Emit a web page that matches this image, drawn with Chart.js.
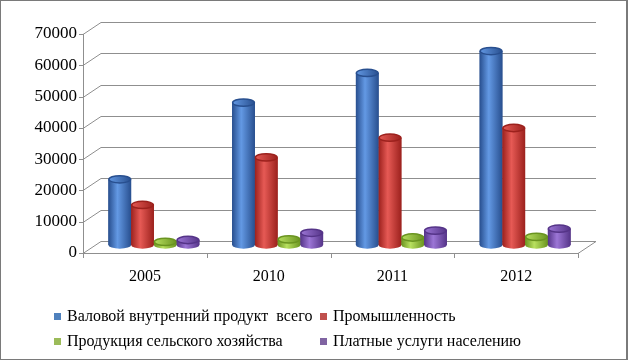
<!DOCTYPE html>
<html>
<head>
<meta charset="utf-8">
<script src="https://cdn.jsdelivr.net/npm/chart.js@4/dist/chart.umd.min.js"></script>
<style>
    body { margin: 0; background: #fff; }
    .wrap { position: relative; width: 628px; height: 360px; background: #fff; }
    .frame {
        position: absolute; left: 0; top: 0; width: 628px; height: 360px;
        box-sizing: border-box; border: 1px solid #7a7a7a; border-right-width: 2px;
        pointer-events: none;
    }
    .legend { position: absolute; left: 0; top: 0; width: 628px; height: 360px; pointer-events: none; }
    .legend-item {
        position: absolute; display: flex; align-items: center;
        font-family: 'Liberation Serif', 'Times New Roman', serif; font-size: 16px; color: #000;
        white-space: pre; line-height: 18px;
    }
    .legend-box { width: 7px; height: 7px; margin-right: 6px; }
</style>
</head>
<body>
<div class="wrap">
    <canvas id="chart" width="628" height="360"></canvas>
    <div class="legend" id="legend"></div>
    <div class="frame"></div>
</div>
<script>
const categories = ['2005', '2010', '2011', '2012'];
const seriesNames = [
    'Валовой внутренний продукт  всего',
    'Промышленность',
    'Продукция сельского хозяйства',
    'Платные услуги населению'
];
const gdpTotal = [21000, 45500, 55000, 62000];
const industry = [12800, 28000, 34300, 37400];
const agriculture = [1000, 1800, 2400, 2600];
const paidServices = [1600, 3900, 4600, 5200];
const yMax = 70000;
const yStep = 10000;

// цвета цилиндров: край / блик
const palette = [
    { edge: '#284f8f', light: '#6399e4', key: '#4f81bd' },
    { edge: '#9c211d', light: '#e65a55', key: '#c0504d' },
    { edge: '#6a9420', light: '#b8e060', key: '#9bbb59' },
    { edge: '#553488', light: '#9c76d6', key: '#8064a2' }
];
const seriesValues = [gdpTotal, industry, agriculture, paidServices];

// сдвиг передней и задней плоскости относительно плоскости столбцов
const DX = 9;
const FRONT_DY = 8;
const BACK_DY = 4.5;

const serif = "'Liberation Serif', 'Times New Roman', serif";

const floorGrid = {
    id: 'floorGrid',
    beforeDatasetsDraw(chart) {
        const { ctx, chartArea, scales } = chart;
        const y = scales.y;
        const left = chartArea.left, right = chartArea.right;
        ctx.save();
        ctx.strokeStyle = '#8f8f8f';
        ctx.lineWidth = 1;
        ctx.beginPath();
        for (let v = 0; v <= yMax; v += yStep) {
            const ym = Math.round(y.getPixelForValue(v));
            const fy = ym + FRONT_DY, by = Math.round(ym - BACK_DY);
            ctx.moveTo(left - DX - 4, fy + 0.5);
            ctx.lineTo(left - DX, fy + 0.5);
            ctx.lineTo(left + DX, by + 0.5);
            ctx.lineTo(right + DX, by + 0.5);
        }
        // ось Y
        const yTop = Math.round(y.getPixelForValue(yMax)) + FRONT_DY;
        const yZero = Math.round(y.getPixelForValue(0)) + FRONT_DY;
        ctx.moveTo(left - DX + 0.5, yTop);
        ctx.lineTo(left - DX + 0.5, yZero);
        // пол
        ctx.moveTo(left - DX, yZero + 0.5);
        ctx.lineTo(right - DX, yZero + 0.5);
        ctx.lineTo(right + DX, Math.round(yZero - FRONT_DY - BACK_DY) + 0.5);
        const step = (right - left) / categories.length;
        for (let i = 0; i <= categories.length; i++) {
            const x = Math.round(left + i * step - DX) + 0.5;
            ctx.moveTo(x, yZero);
            ctx.lineTo(x, yZero + 5);
        }
        ctx.stroke();
        ctx.restore();
    }
};

const cylinders = {
    id: 'cylinders',
    afterDatasetsDraw(chart) {
        const ctx = chart.ctx;
        chart.data.datasets.forEach((ds, di) => {
            const meta = chart.getDatasetMeta(di);
            const col = palette[di];
            meta.data.forEach(bar => {
                const { x, y, base, width } = bar.getProps(['x', 'y', 'base', 'width'], true);
                const rx = width / 2;
                const ry = rx * 0.32;
                const grad = ctx.createLinearGradient(x - rx, 0, x + rx, 0);
                grad.addColorStop(0, col.edge);
                grad.addColorStop(0.4, col.light);
                grad.addColorStop(1, col.edge);
                ctx.save();
                ctx.fillStyle = grad;
                ctx.beginPath();
                ctx.moveTo(x - rx, y);
                ctx.lineTo(x - rx, base);
                ctx.ellipse(x, base, rx, ry, 0, Math.PI, 0, true);
                ctx.lineTo(x + rx, y);
                ctx.closePath();
                ctx.fill();
                const topGrad = ctx.createLinearGradient(x - rx, 0, x + rx, 0);
                topGrad.addColorStop(0, col.light);
                topGrad.addColorStop(1, col.edge);
                ctx.fillStyle = topGrad;
                ctx.strokeStyle = col.edge;
                ctx.lineWidth = 1.5;
                ctx.beginPath();
                ctx.ellipse(x, y, rx - 0.5, ry, 0, 0, Math.PI * 2);
                ctx.fill();
                ctx.stroke();
                ctx.restore();
            });
        });
    }
};

const chart = new Chart(document.getElementById('chart'), {
    type: 'bar',
    data: {
        labels: categories,
        datasets: seriesValues.map((values, i) => ({
            label: seriesNames[i],
            data: values,
            backgroundColor: palette[i].edge,
            borderWidth: 0,
            categoryPercentage: 0.735,
            barPercentage: 1
        }))
    },
    options: {
        responsive: false,
        animation: false,
        layout: { padding: { top: 26, right: 41, left: 0, bottom: 0 } },
        plugins: { legend: { display: false }, tooltip: { enabled: false } },
        scales: {
            x: {
                grid: { display: false, drawTicks: false },
                border: { display: false },
                ticks: {
                    font: { family: serif, size: 16 }, color: '#000',
                    padding: 22, labelOffset: -DX, maxRotation: 0
                },
                afterFit(scale) { scale.height = 115; }
            },
            y: {
                min: 0,
                max: yMax,
                grid: { display: false, drawTicks: false },
                border: { display: false },
                ticks: {
                    font: { family: serif, size: 17 }, color: '#000',
                    stepSize: yStep, padding: 15, labelOffset: FRONT_DY,
                    callback: v => String(v)
                },
                afterFit(scale) { scale.width = 92; }
            }
        }
    },
    plugins: [floorGrid, cylinders]
});

// легенда в две колонки, как в исходнике
const legendEl = document.getElementById('legend');
const legendPos = [[54, 307], [320, 307], [54, 332], [320, 332]];
seriesNames.forEach((name, i) => {
    const item = document.createElement('div');
    item.className = 'legend-item';
    item.style.left = legendPos[i][0] + 'px';
    item.style.top = legendPos[i][1] + 'px';
    const box = document.createElement('span');
    box.className = 'legend-box';
    box.style.background = palette[i].key;
    item.appendChild(box);
    item.appendChild(document.createTextNode(name));
    legendEl.appendChild(item);
});
</script>
</body>
</html>
